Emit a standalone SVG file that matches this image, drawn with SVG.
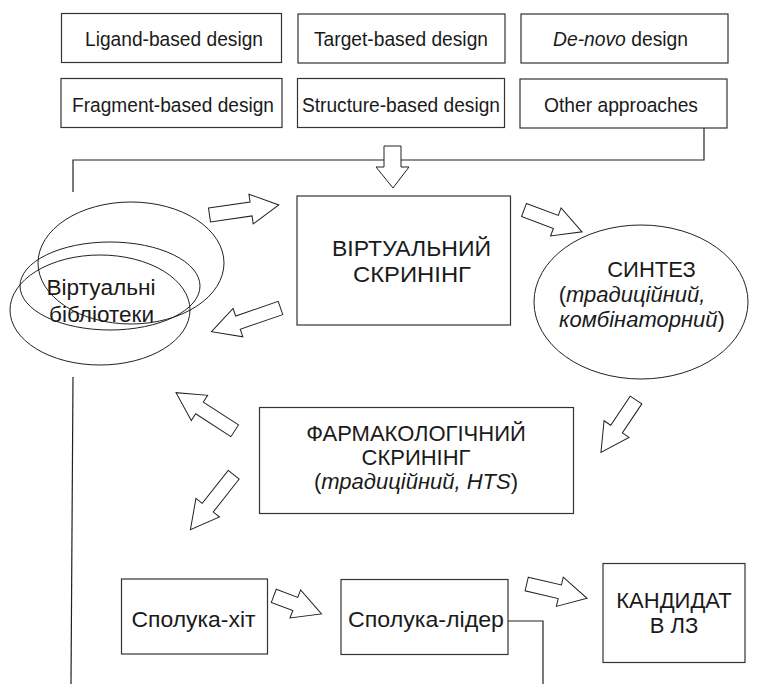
<svg xmlns="http://www.w3.org/2000/svg" width="760" height="684" viewBox="0 0 760 684">
<style>
text{font-family:"Liberation Sans",Arial,sans-serif;fill:#1a1a1a}
.t19{font-size:20.5px}
.t22{font-size:22px}
.box{fill:#fff;stroke:#333;stroke-width:1.2}
.ell{fill:none;stroke:#222;stroke-width:1}
.ba{fill:#fff;stroke:#222;stroke-width:1;stroke-linejoin:miter}
.ln{fill:none;stroke:#222;stroke-width:1.2}
.m{text-anchor:middle}
.i{font-style:italic}
</style>
<rect width="760" height="684" fill="#fff"/>
<g id="connectors">
<polyline class="ln" points="704,128 704,160 73,160 73,192"/>
<line class="ln" x1="73" y1="377" x2="71" y2="684"/>
<polyline class="ln" points="508,621 543,621 543,684"/>
<polygon class="ba" points="384,146 401,146 401,167 409,167 393,188 376,167 384,167"/>
<polygon class="ba" transform="translate(209.5,215) rotate(-8.2)" points="0,-7 42,-7 42,-15 70,0 42,15 42,7 0,7"/>
<polygon class="ba" transform="translate(280.5,308) rotate(161)" points="0,-7 45,-7 45,-15 73,0 45,15 45,7 0,7"/>
<polygon class="ba" transform="translate(524,210) rotate(20.6)" points="0,-7 34,-7 34,-15 62,0 34,15 34,7 0,7"/>
<polygon class="ba" transform="translate(636,400) rotate(123.8)" points="0,-7 35,-7 35,-15 63,0 35,15 35,7 0,7"/>
<polygon class="ba" transform="translate(234.7,430.8) rotate(213)" points="0,-7 42,-7 42,-15 70,0 42,15 42,7 0,7"/>
<polygon class="ba" transform="translate(233.7,474.7) rotate(128.2)" points="0,-7 42,-7 42,-15 70,0 42,15 42,7 0,7"/>
<polygon class="ba" transform="translate(273.8,595.8) rotate(20.8)" points="0,-7 23,-7 23,-15 51,0 23,15 23,7 0,7"/>
<polygon class="ba" transform="translate(526.7,584) rotate(13.3)" points="0,-7 34,-7 34,-15 62,0 34,15 34,7 0,7"/>
</g>
<g id="ligand"><rect class="box" x="61.5" y="13.5" width="220" height="49"/><text class="t19" x="85" y="45.5" textLength="178" lengthAdjust="spacingAndGlyphs">Ligand-based design</text></g>
<g id="target"><rect class="box" x="298" y="14" width="207" height="49"/><text class="t19" x="314" y="45.5" textLength="174" lengthAdjust="spacingAndGlyphs">Target-based design</text></g>
<g id="denovo"><rect class="box" x="521" y="14" width="207" height="49"/><text class="t19" x="553" y="45.5" textLength="135" lengthAdjust="spacingAndGlyphs"><tspan class="i">De-novo</tspan> design</text></g>
<g id="fragment"><rect class="box" x="61" y="78.5" width="221" height="49"/><text class="t19" x="72" y="112" textLength="202" lengthAdjust="spacingAndGlyphs">Fragment-based design</text></g>
<g id="structure"><rect class="box" x="297.5" y="78.5" width="207" height="49"/><text class="t19" x="302" y="112" textLength="198" lengthAdjust="spacingAndGlyphs">Structure-based design</text></g>
<g id="other"><rect class="box" x="520" y="79" width="207" height="49"/><text class="t19" x="544" y="112" textLength="154" lengthAdjust="spacingAndGlyphs">Other approaches</text></g>
<g id="libraries">
<ellipse class="ell" cx="131" cy="263" rx="93" ry="61"/>
<ellipse class="ell" cx="110" cy="286" rx="90" ry="44"/>
<ellipse class="ell" cx="100" cy="310" rx="90" ry="55"/>
<text class="t22" x="46.5" y="295" textLength="109" lengthAdjust="spacingAndGlyphs">Віртуальні</text>
<text class="t22" x="49" y="321.5" textLength="105" lengthAdjust="spacingAndGlyphs">бібліотеки</text>
</g>
<g id="virtual-screening"><rect class="box" x="297" y="196" width="213.5" height="129"/><text class="t22" x="332" y="256" textLength="159" lengthAdjust="spacingAndGlyphs">ВІРТУАЛЬНИЙ</text><text class="t22" x="353" y="281.5" textLength="118" lengthAdjust="spacingAndGlyphs">СКРИНІНГ</text></g>
<g id="synthesis"><ellipse class="ell" cx="641" cy="302" rx="107" ry="77"/><text class="t22 m" x="651.5" y="277">СИНТЕЗ</text><text class="t22 m" x="632" y="302">(<tspan class="i">традиційний,</tspan></text><text class="t22 m" x="642" y="327"><tspan class="i">комбінаторний</tspan>)</text></g>
<g id="pharm-screening"><rect class="box" x="259.5" y="407.5" width="314" height="106"/><text class="t22 m" x="416" y="441">ФАРМАКОЛОГІЧНИЙ</text><text class="t22 m" x="416" y="465">СКРИНІНГ</text><text class="t22 m" x="416" y="489">(<tspan class="i">традиційний, HTS</tspan>)</text></g>
<g id="hit"><rect class="box" x="121.5" y="579" width="146" height="75"/><text class="t22" x="131.5" y="627" textLength="124" lengthAdjust="spacingAndGlyphs">Сполука-хіт</text></g>
<g id="lead"><rect class="box" x="341" y="579.5" width="167" height="75"/><text class="t22" x="348" y="627" textLength="156" lengthAdjust="spacingAndGlyphs">Сполука-лідер</text></g>
<g id="candidate"><rect class="box" x="603" y="563.5" width="142" height="99"/><text class="t22 m" x="674" y="608">КАНДИДАТ</text><text class="t22 m" x="674" y="633">В ЛЗ</text></g>
</svg>
